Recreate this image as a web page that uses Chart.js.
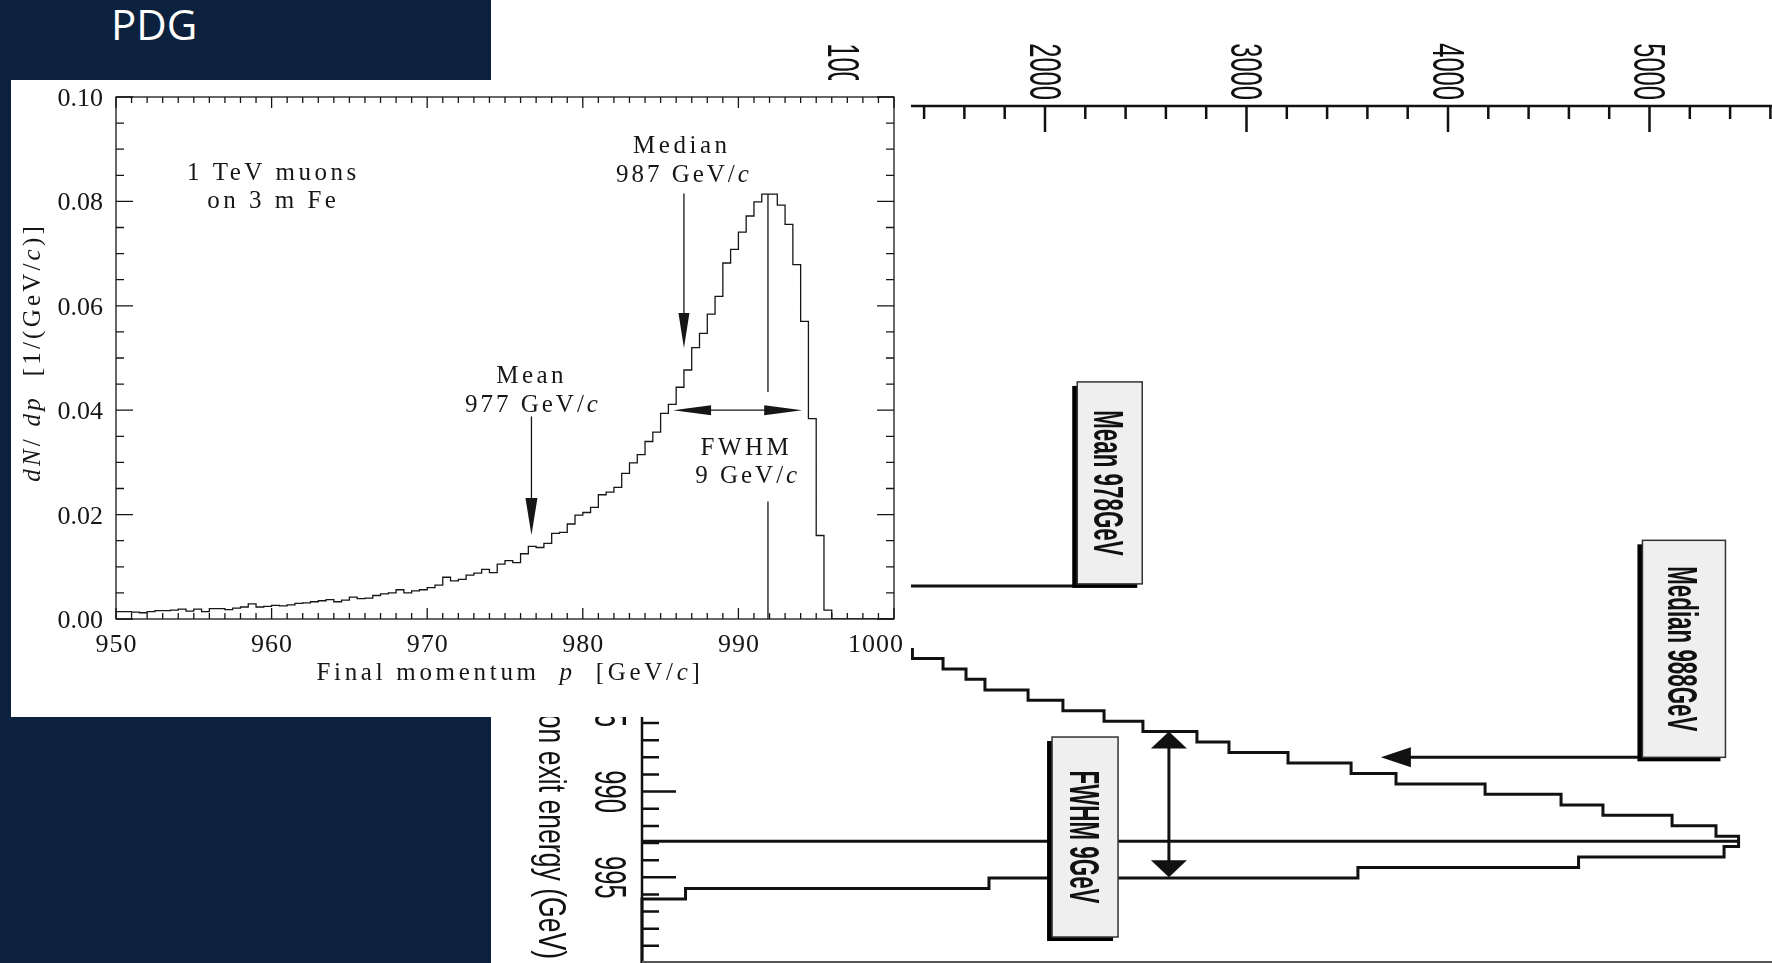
<!DOCTYPE html>
<html>
<head>
<meta charset="utf-8">
<script src="https://cdn.jsdelivr.net/npm/chart.js@4.4.1/dist/chart.umd.min.js"></script>
<style>
  html, body { margin: 0; padding: 0; width: 1772px; height: 963px; overflow: hidden; background: #fff; }
  #navy { position: absolute; left: 0; top: 0; width: 491px; height: 963px; background: #0b213d; }
  #pdg { position: absolute; left: 111px; top: 3px; font: 42px/42px "Open Sans", sans-serif; color: #fff; }
  #wrapB { position: absolute; left: 0; top: 0; width: 1772px; height: 963px; }
  #panel { position: absolute; left: 11px; top: 80px; width: 900px; height: 637px; background: #fff; }
</style>
</head>
<body>
<div id="navy"></div>
<div id="pdg">PDG</div>
<div id="wrapB"><canvas id="exitChart"></canvas></div>
<div id="panel"><canvas id="momChart"></canvas></div>
<script>
// ---- left plot: final momentum of 1 TeV muons after 3 m Fe (0.5 GeV/c bins) ----
const momentumStart = 950;
const momentumBin = 0.5;
const dNdp = [
  0.0014, 0.0014, 0.0013, 0.0012, 0.0014, 0.0016, 0.0016, 0.0017, 0.0019, 0.0015,
  0.0019, 0.0014, 0.0020, 0.0020, 0.0018, 0.0021, 0.0023, 0.0029, 0.0023, 0.0024,
  0.0026, 0.0025, 0.0027, 0.0030, 0.0031, 0.0033, 0.0035, 0.0037, 0.0033, 0.0036,
  0.0042, 0.0039, 0.0040, 0.0045, 0.0048, 0.0050, 0.0056, 0.0050, 0.0054, 0.0056,
  0.0060, 0.0065, 0.0080, 0.0073, 0.0076, 0.0084, 0.0088, 0.0095, 0.0089, 0.0105,
  0.0112, 0.0108, 0.0125, 0.0139, 0.0137, 0.0145, 0.0164, 0.0166, 0.0182, 0.0199,
  0.0204, 0.0214, 0.0238, 0.0243, 0.0252, 0.0279, 0.0299, 0.0315, 0.0340, 0.0358,
  0.0394, 0.0411, 0.0444, 0.0477, 0.0520, 0.0547, 0.0584, 0.0618, 0.0682, 0.0708,
  0.0741, 0.0772, 0.0799, 0.0814, 0.0814, 0.0793, 0.0756, 0.0679, 0.0570, 0.0384,
  0.0160, 0.0017, 0, 0, 0, 0, 0, 0, 0, 0
];
const momTickLabels = [950, 960, 970, 980, 990, 1000];
const densityTickLabels = [0, 0.02, 0.04, 0.06, 0.08, 0.10];
const momMedian = 986.5, momMean = 976.7, momPeak = 991.9;
const fwhmFrom = 985.8, fwhmTo = 994.1, fwhmLevel = 0.040;

// ---- right plot (rotated): muon exit energy histogram ----
const exitEnergyEdges = [981.62, 982.23, 982.85, 983.45, 984.07, 984.67, 985.29, 985.89, 986.50, 987.11,
  987.72, 988.33, 988.94, 989.56, 990.16, 990.78, 991.38, 991.99, 992.60, 993.21,
  993.82, 994.43, 995.04, 995.65, 996.27];
const exitCounts = [1342, 1494, 1608, 1702, 1916, 2089, 2293, 2486, 2754, 2913,
  3206, 3519, 3742, 4184, 4561, 4769, 5112, 5330, 5442, 5370,
  4648, 3553, 1722, 216];
const countTickLabels = [1000, 2000, 3000, 4000, 5000];
const energyTickLabels = [985, 990, 995];
const exitMean = 978, exitMedian = 988, exitPeak = 992.9;
const exitFwhm = [986.5, 995.0];

const INK = '#161616';
const SERIF = '"Liberation Serif", "Times New Roman", serif';

function drawRich(ctx, parts, x, y, size, spacing, align) {
  // parts: [text, italic]
  ctx.letterSpacing = spacing + 'px';
  const widths = parts.map(p => {
    ctx.font = (p[1] ? 'italic ' : '') + size + 'px ' + SERIF;
    return ctx.measureText(p[0]).width;
  });
  const total = widths.reduce((s, w) => s + w, 0) - spacing;
  let cx = x - total / 2;
  if (align === 'right') cx = x - total;
  ctx.textAlign = 'left';
  parts.forEach((p, i) => {
    ctx.font = (p[1] ? 'italic ' : '') + size + 'px ' + SERIF;
    ctx.fillText(p[0], cx, y);
    cx += widths[i];
  });
  ctx.letterSpacing = '0px';
}

function arrowHead(ctx, tipX, tipY, fromX, fromY, len, half) {
  const ang = Math.atan2(tipY - fromY, tipX - fromX);
  const bx = tipX - len * Math.cos(ang), by = tipY - len * Math.sin(ang);
  ctx.beginPath();
  ctx.moveTo(tipX, tipY);
  ctx.lineTo(bx + half * Math.sin(ang), by - half * Math.cos(ang));
  ctx.lineTo(bx - half * Math.sin(ang), by + half * Math.cos(ang));
  ctx.closePath();
  ctx.fill();
}

const momDecor = {
  id: 'momDecor',
  afterDatasetsDraw(chart) {
    const { ctx, chartArea: a, scales: { x, y } } = chart;
    ctx.save();
    ctx.strokeStyle = INK;
    ctx.fillStyle = INK;
    ctx.lineWidth = 1.3;
    ctx.strokeRect(a.left, a.top, a.right - a.left, a.bottom - a.top);

    // inward ticks on all four sides
    ctx.beginPath();
    for (let v = 950; v <= 1000; v++) {
      const px = x.getPixelForValue(v), len = v % 10 === 0 ? 11 : 6;
      ctx.moveTo(px, a.bottom); ctx.lineTo(px, a.bottom - len);
      ctx.moveTo(px, a.top); ctx.lineTo(px, a.top + len);
    }
    for (let i = 0; i <= 20; i++) {
      const py = y.getPixelForValue(i * 0.005), len = i % 4 === 0 ? 17 : 8;
      ctx.moveTo(a.left, py); ctx.lineTo(a.left + len, py);
      ctx.moveTo(a.right, py); ctx.lineTo(a.right - len, py);
    }
    ctx.stroke();

    // tick labels
    momTickLabels.forEach((v, i) => {
      const last = i === momTickLabels.length - 1;
      drawRich(ctx, [[String(v)]], x.getPixelForValue(v) + (last ? 9 : 0), a.bottom + 33, 26, 1, last ? 'right' : 'center');
    });
    densityTickLabels.forEach(v => {
      drawRich(ctx, [[v.toFixed(2)]], a.left - 13, y.getPixelForValue(v) + 9, 26, 0, 'right');
    });

    // peak line, broken where the FWHM label sits
    const pk = x.getPixelForValue(momPeak);
    ctx.beginPath();
    ctx.moveTo(pk, y.getPixelForValue(0.0814)); ctx.lineTo(pk, y.getPixelForValue(0.0435));
    ctx.moveTo(pk, y.getPixelForValue(0.0225)); ctx.lineTo(pk, y.getPixelForValue(0));
    ctx.stroke();

    // median and mean arrows
    const md = x.getPixelForValue(momMedian);
    ctx.beginPath();
    ctx.moveTo(md, y.getPixelForValue(0.0815)); ctx.lineTo(md, y.getPixelForValue(0.0540));
    ctx.stroke();
    arrowHead(ctx, md, y.getPixelForValue(0.0519), md, 0, 35, 5.5);
    const mn = x.getPixelForValue(momMean);
    ctx.beginPath();
    ctx.moveTo(mn, y.getPixelForValue(0.0388)); ctx.lineTo(mn, y.getPixelForValue(0.0180));
    ctx.stroke();
    arrowHead(ctx, mn, y.getPixelForValue(0.0161), mn, 0, 37, 6);

    // FWHM double arrow
    const fy = y.getPixelForValue(fwhmLevel);
    const f1 = x.getPixelForValue(fwhmFrom), f2 = x.getPixelForValue(fwhmTo);
    ctx.beginPath();
    ctx.moveTo(f1 + 10, fy); ctx.lineTo(f2 - 10, fy);
    ctx.stroke();
    arrowHead(ctx, f1, fy, f2, fy, 38, 5);
    arrowHead(ctx, f2, fy, f1, fy, 38, 5);

    // annotations
    const S = 25, L = 3.5;
    const at = (v, w) => [x.getPixelForValue(v), y.getPixelForValue(w)];
    let p;
    p = at(960, 0.0841); drawRich(ctx, [['1 TeV muons']], p[0], p[1], S, L);
    p = at(960, 0.0788); drawRich(ctx, [['on 3 m Fe']], p[0], p[1], S, L);
    p = at(986.25, 0.0893); drawRich(ctx, [['Median']], p[0], p[1], S, L);
    p = at(986.4, 0.0837); drawRich(ctx, [['987 GeV/'], ['c', true]], p[0], p[1], S, 3);
    p = at(976.6, 0.0452); drawRich(ctx, [['Mean']], p[0], p[1], S, L);
    p = at(976.7, 0.0397); drawRich(ctx, [['977 GeV/'], ['c', true]], p[0], p[1], S, 3);
    p = at(990.4, 0.0314); drawRich(ctx, [['FWHM']], p[0], p[1], S, L);
    p = at(990.5, 0.0261); drawRich(ctx, [['9 GeV/'], ['c', true]], p[0], p[1], S, 3);

    // axis titles
    drawRich(ctx, [['Final momentum  '], ['p', true], ['  [GeV/'], ['c', true], [']']],
      x.getPixelForValue(975.2), a.bottom + 61, S, 3.7);
    ctx.save();
    ctx.translate(a.left - 76, (a.top + a.bottom) / 2 - 4);
    ctx.rotate(-Math.PI / 2);
    drawRich(ctx, [['dN', true], ['/ '], ['dp', true], ['  [1/(GeV/'], ['c', true], [')]']], 0, 0, S, 3.2);
    ctx.restore();
    ctx.restore();
  }
};

const histPoints = [{ x: momentumStart, y: 0 }];
dNdp.forEach((v, i) => histPoints.push({ x: momentumStart + i * momentumBin, y: v }));
histPoints.push({ x: 1000, y: 0 });

new Chart(document.getElementById('momChart'), {
  type: 'line',
  data: {
    datasets: [{
      data: histPoints,
      stepped: true,
      borderColor: INK,
      borderWidth: 1.3,
      pointRadius: 0,
      fill: false
    }]
  },
  options: {
    responsive: true,
    maintainAspectRatio: false,
    devicePixelRatio: 1,
    animation: false,
    layout: { padding: { top: 17, right: 17, left: 0, bottom: 0 } },
    plugins: { legend: { display: false }, tooltip: { enabled: false } },
    scales: {
      x: {
        type: 'linear', min: 950, max: 1000,
        grid: { display: false, drawTicks: false },
        border: { display: false },
        ticks: { display: false },
        afterFit: s => { s.height = 98; s.paddingLeft = 0; s.paddingRight = 0; }
      },
      y: {
        min: 0, max: 0.1,
        grid: { display: false, drawTicks: false },
        border: { display: false },
        ticks: { display: false },
        afterFit: s => { s.width = 105; s.paddingTop = 0; s.paddingBottom = 0; }
      }
    }
  },
  plugins: [momDecor]
});

// ---- right plot ----
function noteBox(ctx, left, top, w, h, text) {
  ctx.fillStyle = '#000';
  ctx.fillRect(left - 5, top + 4, w, h);
  ctx.fillStyle = '#efefef';
  ctx.fillRect(left, top, w, h);
  ctx.strokeStyle = '#333';
  ctx.lineWidth = 1.5;
  ctx.strokeRect(left, top, w, h);
  ctx.fillStyle = '#111';
  ctx.font = 'bold 43px "Liberation Sans", Arial, sans-serif';
  ctx.save();
  ctx.translate(left + w / 2 - 15.5, top + h / 2);
  ctx.rotate(Math.PI / 2);
  ctx.scale(0.52, 1);
  ctx.textAlign = 'center';
  ctx.textBaseline = 'alphabetic';
  ctx.fillText(text, 0, 0);
  ctx.restore();
}

const exitDecor = {
  id: 'exitDecor',
  afterDatasetsDraw(chart) {
    const { ctx, chartArea: a, scales: { x, y } } = chart;
    ctx.save();
    ctx.strokeStyle = '#111';
    ctx.fillStyle = '#111';
    ctx.lineWidth = 2.5;
    ctx.beginPath();
    ctx.moveTo(a.left, a.top); ctx.lineTo(a.right + 2, a.top);
    ctx.moveTo(a.left, a.top); ctx.lineTo(a.left, a.bottom);
    for (let n = 0; n <= 5600; n += 200) {
      const px = x.getPixelForValue(n), len = n % 1000 === 0 ? 26 : 13;
      ctx.moveTo(px, a.top); ctx.lineTo(px, a.top + len);
    }
    for (let e = 950; e <= 1000; e++) {
      const py = y.getPixelForValue(e), len = e % 5 === 0 ? 34 : 17;
      ctx.moveTo(a.left, py); ctx.lineTo(a.left + len, py);
    }
    ctx.stroke();
    ctx.strokeStyle = '#555';
    ctx.lineWidth = 2;
    ctx.beginPath();
    ctx.moveTo(a.left, a.bottom - 1); ctx.lineTo(a.right + 2, a.bottom - 1);
    ctx.stroke();

    // tick labels, rotated to read downwards
    ctx.font = '44px "Liberation Sans", Arial, sans-serif';
    ctx.textBaseline = 'alphabetic';
    countTickLabels.forEach(n => {
      ctx.save();
      ctx.translate(x.getPixelForValue(n) - 15.5, a.top - 6);
      ctx.rotate(Math.PI / 2);
      ctx.scale(0.58, 1);
      ctx.textAlign = 'right';
      ctx.fillText(String(n), 0, 0);
      ctx.restore();
    });
    energyTickLabels.forEach(e => {
      ctx.save();
      ctx.translate(a.left - 47, y.getPixelForValue(e));
      ctx.rotate(Math.PI / 2);
      ctx.scale(0.58, 1);
      ctx.textAlign = 'center';
      ctx.fillText(String(e), 0, 0);
      ctx.restore();
    });
    ctx.save();
    ctx.font = '38px "Liberation Sans", Arial, sans-serif';
    ctx.translate(a.left - 103, y.getPixelForValue(983.3));
    ctx.rotate(Math.PI / 2);
    ctx.scale(0.7, 1);
    ctx.textAlign = 'left';
    ctx.fillText('Muon exit energy (GeV)', 0, 0);
    ctx.restore();

    // mean marker
    ctx.strokeStyle = '#111';
    ctx.lineWidth = 3;
    const ym = y.getPixelForValue(exitMean);
    ctx.beginPath();
    ctx.moveTo(x.getPixelForValue(0), ym); ctx.lineTo(x.getPixelForValue(2139), ym);
    ctx.stroke();
    noteBox(ctx, x.getPixelForValue(2160), ym - 204, 65, 202, 'Mean 978GeV');

    // median arrow
    const yd = y.getPixelForValue(exitMedian);
    const tip = x.getPixelForValue(3667), boxL = x.getPixelForValue(4965);
    ctx.strokeStyle = '#111';
    ctx.fillStyle = '#111';
    ctx.lineWidth = 3;
    ctx.beginPath();
    ctx.moveTo(boxL, yd); ctx.lineTo(tip + 20, yd);
    ctx.stroke();
    arrowHead(ctx, tip, yd, boxL, yd, 30, 10);
    noteBox(ctx, boxL, yd - 217, 83, 217, 'Median 988GeV');

    // FWHM double arrow
    const fx = x.getPixelForValue(2615);
    const t1 = y.getPixelForValue(exitFwhm[0]), t2 = y.getPixelForValue(exitFwhm[1]);
    ctx.strokeStyle = '#111';
    ctx.fillStyle = '#111';
    ctx.lineWidth = 3;
    ctx.beginPath();
    ctx.moveTo(fx, t1 + 10); ctx.lineTo(fx, t2 - 10);
    ctx.stroke();
    arrowHead(ctx, fx, t1, fx, t2, 17, 18);
    arrowHead(ctx, fx, t2, fx, t1, 17, 18);
    noteBox(ctx, x.getPixelForValue(2035), y.getPixelForValue(992.65) - 100, 66, 200, 'FWHM 9GeV');
    ctx.restore();
  }
};

const exitOutline = exitCounts.map((n, i) => ({ x: n, y: exitEnergyEdges[i] }));
exitOutline.push({ x: 0, y: exitEnergyEdges[exitEnergyEdges.length - 1] });
exitOutline.push({ x: 0, y: 1000 });

new Chart(document.getElementById('exitChart'), {
  type: 'scatter',
  data: {
    datasets: [
      { data: exitOutline, showLine: true, stepped: 'after', borderColor: '#111', borderWidth: 3, pointRadius: 0, clip: false },
      { data: [{ x: 0, y: exitPeak }, { x: 5442, y: exitPeak }], showLine: true, borderColor: '#111', borderWidth: 3, pointRadius: 0, clip: false }
    ]
  },
  options: {
    responsive: true,
    maintainAspectRatio: false,
    devicePixelRatio: 1,
    animation: false,
    layout: { padding: { left: 642, top: 106, right: 1.6, bottom: 0 } },
    plugins: { legend: { display: false }, tooltip: { enabled: false } },
    scales: {
      x: { type: 'linear', position: 'top', min: 0, max: 5600, display: false },
      y: { type: 'linear', min: 950, max: 1000, reverse: true, display: false }
    }
  },
  plugins: [exitDecor]
});
</script>
</body>
</html>
